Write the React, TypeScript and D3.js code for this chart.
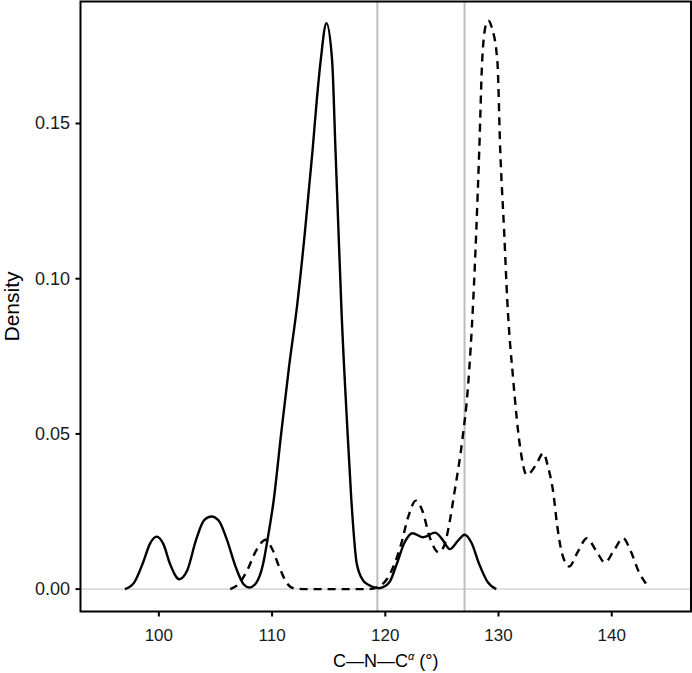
import React from "react";
import * as d3 from "d3";

// Solid density curve (x in degrees, density)
const solidX = [97.0, 97.8, 98.6, 99.2, 99.8, 100.4, 101.0, 101.8, 102.5, 103.3, 104.0, 104.65, 105.3, 106.0, 106.8, 107.5, 108.0, 108.6, 109.2, 109.6, 110.15, 110.8, 111.5, 112.2, 112.9, 113.58, 113.95, 114.3, 114.8, 115.3, 115.6, 115.9, 116.14, 116.6, 117.0, 117.47, 118.0, 118.5, 119.4, 120.0, 120.4, 121.0, 121.7, 122.4, 123.35, 124.4, 125.0, 125.7, 126.4, 127.0, 127.6, 128.3, 129.0, 129.8];
const solidY = [0.0, 0.002, 0.0085, 0.0145, 0.0169, 0.0145, 0.008, 0.0032, 0.006, 0.016, 0.0222, 0.0234, 0.022, 0.016, 0.007, 0.0015, 0.0005, 0.002, 0.008, 0.016, 0.0288, 0.05, 0.0717, 0.091, 0.115, 0.1415, 0.1576, 0.1705, 0.1823, 0.1705, 0.1415, 0.112, 0.089, 0.055, 0.0288, 0.0084, 0.003, 0.0014, 0.0003, 0.001, 0.0024, 0.008, 0.015, 0.018, 0.0167, 0.0182, 0.0162, 0.0129, 0.0155, 0.0175, 0.015, 0.008, 0.0025, 0.0];

// Dashed density curve
const dashedX = [106.3, 107.0, 107.8, 108.6, 109.2, 109.45, 110.0, 110.7, 111.3, 111.9, 113.0, 115.0, 117.0, 118.5, 119.5, 120.2, 120.8, 121.4, 122.0, 122.7, 123.3, 123.9, 124.7, 125.2, 125.6, 126.1, 126.8, 127.3, 127.77, 128.3, 128.56, 128.9, 129.1, 129.4, 129.9, 130.15, 130.5, 130.77, 131.3, 131.9, 132.5, 133.3, 133.95, 134.4, 134.8, 135.2, 135.6, 136.25, 137.0, 137.8, 138.6, 139.4, 140.2, 141.0, 141.7, 142.4, 143.1];
const dashedY = [0.0, 0.0015, 0.006, 0.0125, 0.0155, 0.0159, 0.013, 0.0065, 0.002, 0.0003, 0.0, 0.0, 0.0, 0.0, 0.001, 0.0035, 0.008, 0.0145, 0.023, 0.0285, 0.025, 0.017, 0.0119, 0.014, 0.02, 0.031, 0.048, 0.065, 0.0932, 0.1415, 0.1705, 0.182, 0.1831, 0.181, 0.17, 0.1415, 0.115, 0.0932, 0.0674, 0.0459, 0.0368, 0.04, 0.0438, 0.039, 0.032, 0.02, 0.0116, 0.0073, 0.012, 0.0164, 0.0125, 0.0086, 0.0125, 0.0164, 0.012, 0.0055, 0.0014];

const xTicks = [100, 110, 120, 130, 140];
const yTicks = [0, 0.05, 0.1, 0.15];
const vLines = [119.3, 127.0];

const W = 692;
const H = 673;
const left = 80.5;
const right = 691;
const top = 1.5;
const bottom = 611.5;

export default function App() {
  const x = d3.scaleLinear().domain([93.08, 147.0]).range([left, right]);
  const y = d3.scaleLinear().domain([-0.00721, 0.1893]).range([bottom, top]);
  const line = d3
    .line<[number, number]>()
    .x((d) => x(d[0]))
    .y((d) => y(d[1]))
    .curve(d3.curveMonotoneX);
  const solid = solidX.map((v, i) => [v, solidY[i]] as [number, number]);
  const dashed = dashedX.map((v, i) => [v, dashedY[i]] as [number, number]);
  const font = "'Liberation Sans', Arial, Helvetica, sans-serif";
  return (
    <svg
      width={W}
      height={H}
      style={{ position: "absolute", left: 0, top: 0, background: "#fff" }}
      fontFamily={font}
    >
      <rect x={0} y={0} width={W} height={H} fill="#fff" />
      <defs>
        <clipPath id="panel">
          <rect x={left} y={top} width={right - left} height={bottom - top} />
        </clipPath>
      </defs>
      <g clipPath="url(#panel)">
        <line x1={left} x2={right} y1={y(0)} y2={y(0)} stroke="#cccccc" strokeWidth={1.2} />
        {vLines.map((v) => (
          <line key={v} x1={x(v)} x2={x(v)} y1={top} y2={bottom} stroke="#bdbdbd" strokeWidth={2} />
        ))}
        <path d={line(solid) || ""} fill="none" stroke="#000" strokeWidth={2.4} strokeLinejoin="round" />
        <path d={line(dashed) || ""} fill="none" stroke="#000" strokeWidth={2.4} strokeDasharray="8,6" />
      </g>
      <rect x={left} y={top} width={right - left} height={bottom - top} fill="none" stroke="#000" strokeWidth={2} />
      {xTicks.map((t) => (
        <g key={t}>
          <line x1={x(t)} x2={x(t)} y1={bottom} y2={bottom + 5} stroke="#000" strokeWidth={2} />
          <text x={x(t)} y={641} textAnchor="middle" fontSize={17} fill="#1a1a1a">
            {t}
          </text>
        </g>
      ))}
      {yTicks.map((t) => (
        <g key={t}>
          <line x1={left - 5} x2={left} y1={y(t)} y2={y(t)} stroke="#000" strokeWidth={2} />
          <text x={left - 10.5} y={y(t) + 6} textAnchor="end" fontSize={18} fill="#1a1a1a">
            {t.toFixed(2)}
          </text>
        </g>
      ))}
      <text x={(left + right) / 2} y={667} textAnchor="middle" fontSize={18} fill="#000">
        C—N—C<tspan dy={-7} fontSize={11} fontStyle="italic">α</tspan>
        <tspan dy={7}> (°)</tspan>
      </text>
      <text
        transform={`translate(${19}, ${(top + bottom) / 2}) rotate(-90)`}
        textAnchor="middle"
        fontSize={21}
        fill="#000"
      >
        Density
      </text>
    </svg>
  );
}
